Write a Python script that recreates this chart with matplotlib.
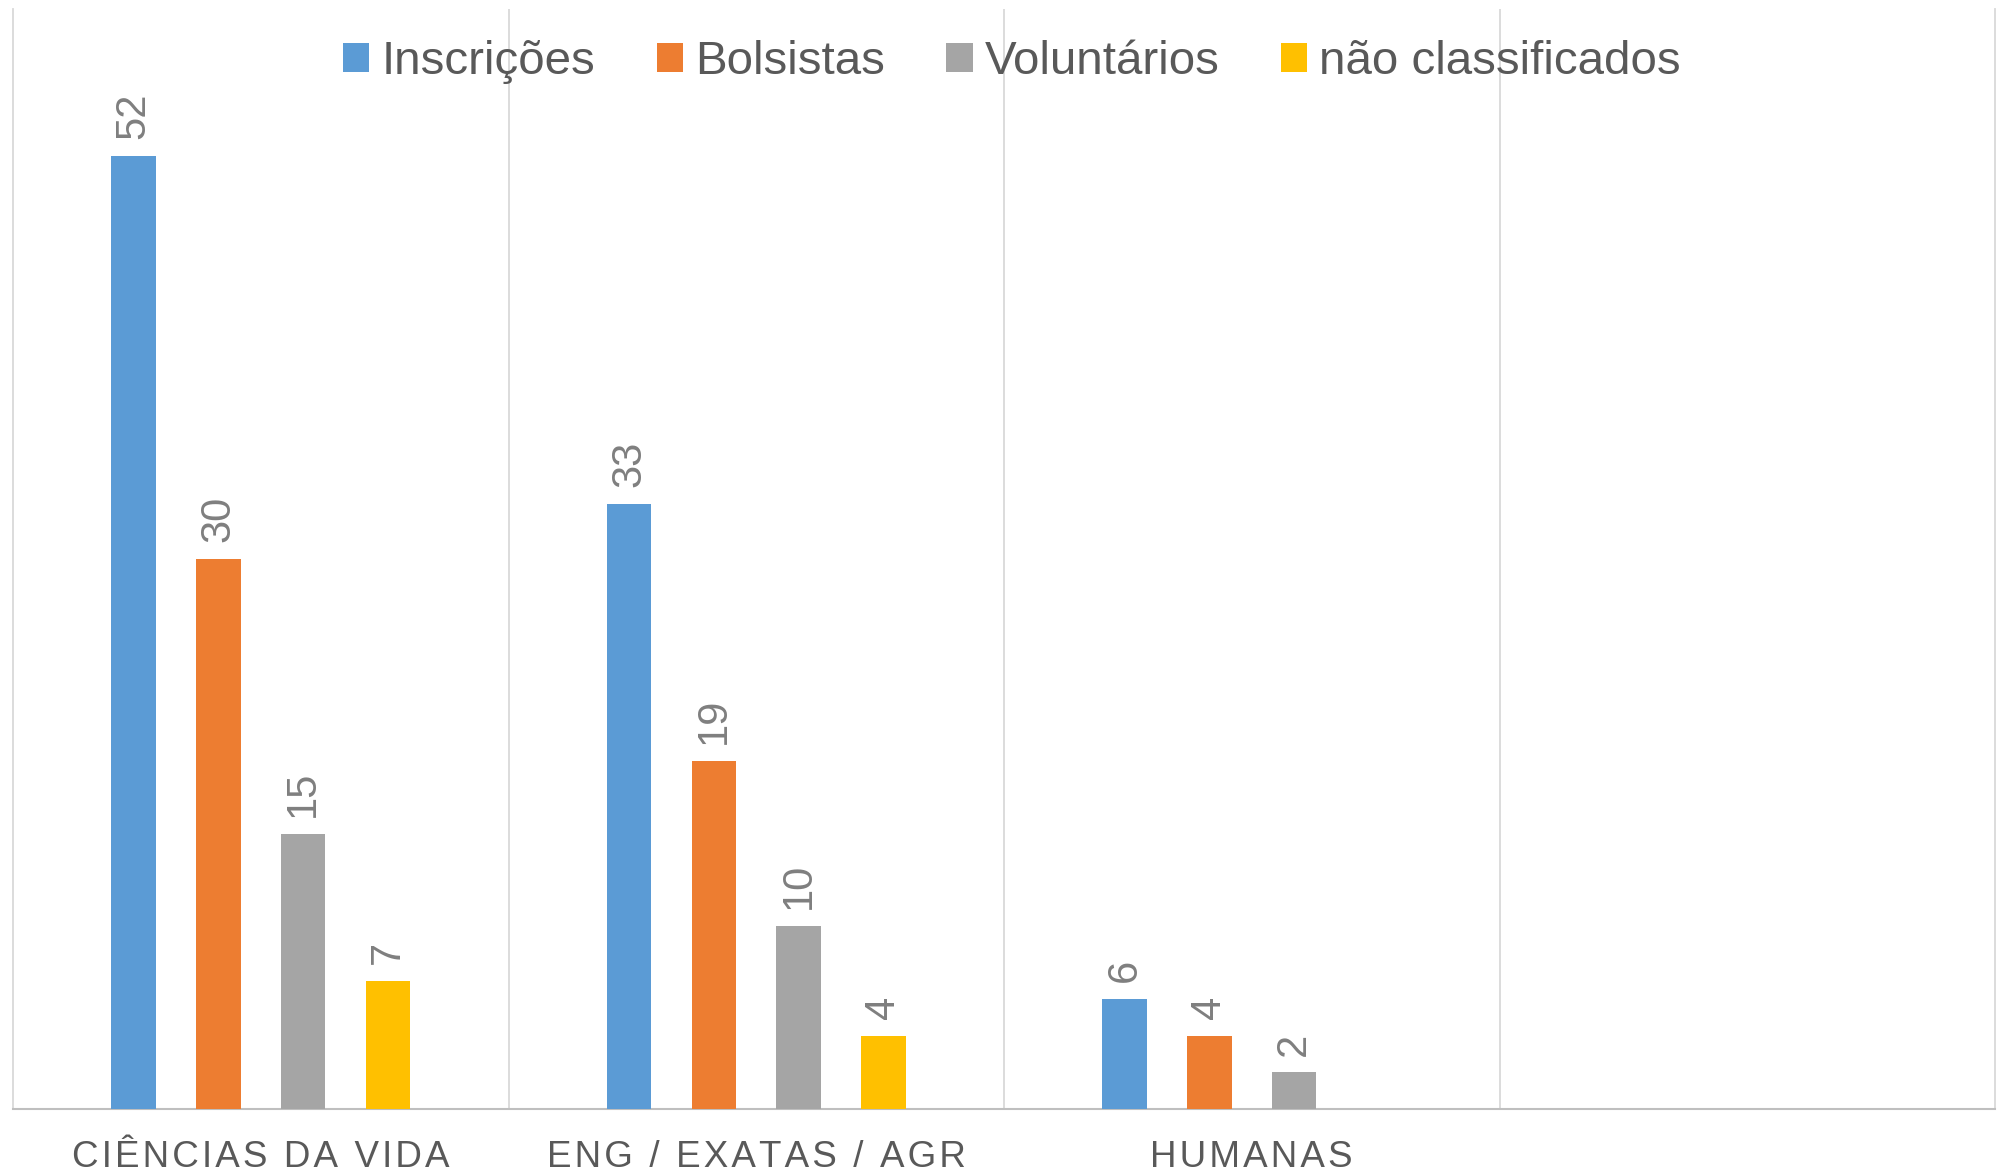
import numpy as np
import matplotlib
matplotlib.use('Agg')
import matplotlib.pyplot as plt
from matplotlib.patches import Patch

plt.rcParams['font.family'] = ['Liberation Sans', 'DejaVu Sans']

categorias = ['CIÊNCIAS DA VIDA', 'ENG / EXATAS / AGR', 'HUMANAS', '']
series = ['Inscrições', 'Bolsistas', 'Voluntários', 'não classificados']
inscricoes = [52, 33, 6, np.nan]
bolsistas = [30, 19, 4, np.nan]
voluntarios = [15, 10, 2, np.nan]
nao_classificados = [7, 4, np.nan, np.nan]
cores = ['#5B9BD5', '#ED7D31', '#A5A5A5', '#FFC000']

valores = [inscricoes, bolsistas, voluntarios, nao_classificados]


def espacado(txt):
    # espaçamento entre letras como no Excel
    return '\u200a'.join(txt)


fig = plt.figure(figsize=(19.98, 11.74), dpi=100)
ax = fig.add_axes([13 / 1998, 1 - 1109 / 1174, (1995 - 13) / 1998, (1109 - 9) / 1174])

x = np.arange(len(categorias))
passo = 0.171
largura = 0.09
for i, (vals, cor) in enumerate(zip(valores, cores)):
    pos = x + (i - 1.5) * passo
    ax.bar(pos, vals, width=largura, color=cor, zorder=3)
    for p, v in zip(pos, vals):
        if not np.isnan(v):
            ax.annotate(f'{v:g}', (p, v), xytext=(0, 12), textcoords='offset points',
                        rotation=90, ha='center', va='bottom', fontsize=30, color='#7F7F7F')

ax.set_xlim(-0.5, 3.5)
ax.set_ylim(0, 60)
ax.set_yticks([])
ax.set_xticks(x)
ax.set_xticklabels([espacado(c) for c in categorias], fontsize=26.5, color='#595959')
ax.tick_params(axis='x', which='major', length=0, pad=22)
ax.set_xticks(x[:-1] + 0.5, minor=True)
ax.tick_params(axis='x', which='minor', length=0)
ax.grid(True, axis='x', which='minor', color='#D9D9D9', linewidth=1.3, zorder=0)

ax.spines['top'].set_visible(False)
ax.spines['left'].set_color('#D9D9D9')
ax.spines['right'].set_color('#D9D9D9')
ax.spines['left'].set_linewidth(1.3)
ax.spines['right'].set_linewidth(1.3)
ax.spines['bottom'].set_color('#BFBFBF')
ax.spines['bottom'].set_linewidth(1.5)

handles = [Patch(facecolor=c, label=s) for c, s in zip(cores, series)]
fig.legend(handles=handles, loc='center', bbox_to_anchor=(0.5065, 0.947), ncol=4,
           frameon=False, fontsize=34.2, labelcolor='#595959', handlelength=0.55,
           handleheight=0.55, handletextpad=0.25, columnspacing=1.3, borderpad=0)

fig.savefig('out.png', dpi=100)
